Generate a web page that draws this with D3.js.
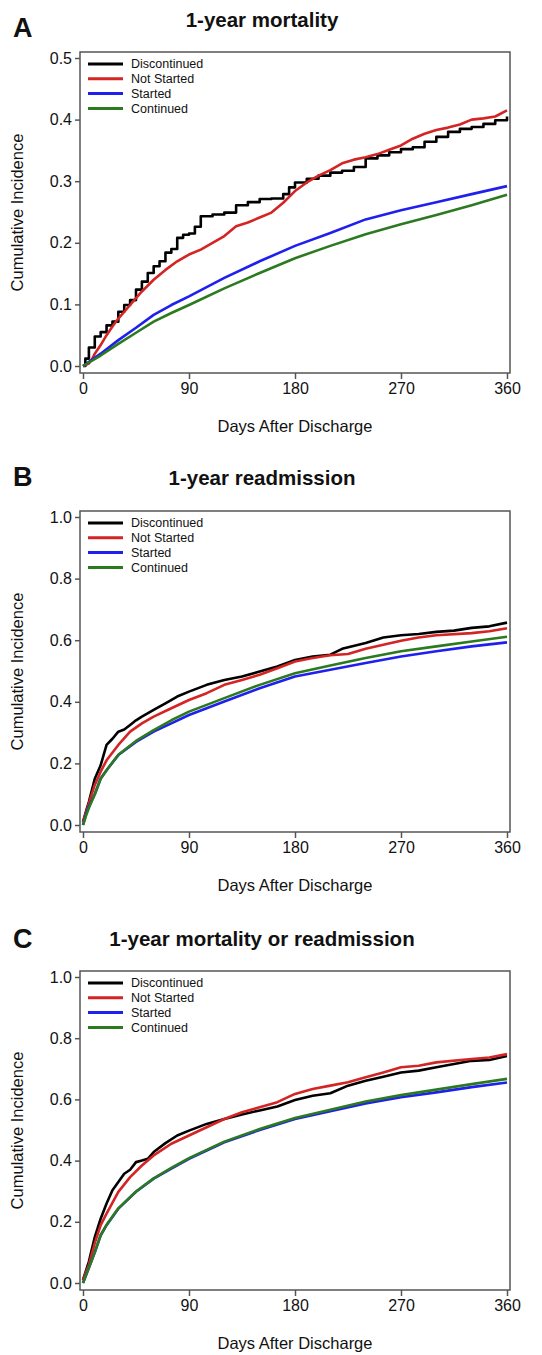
<!DOCTYPE html>
<html>
<head>
<meta charset="utf-8">
<script src="https://cdn.jsdelivr.net/npm/d3@7"></script>
<style>
  html, body { margin: 0; padding: 0; background: #fff; }
  svg { display: block; }
  text { font-family: "Liberation Sans", Arial, sans-serif; fill: #111; }
</style>
</head>
<body>
<svg id="chart" width="542" height="1355"></svg>
<script>
// ---------- data ----------
const seriesNames = ["Discontinued", "Not Started", "Started", "Continued"];
const seriesColors = ["#000000", "#d42424", "#1f1fee", "#2c7a1f"];
const xTicks = [0, 90, 180, 270, 360];
const yTicksA = [0.0, 0.1, 0.2, 0.3, 0.4, 0.5];
const yTicksBC = [0.0, 0.2, 0.4, 0.6, 0.8, 1.0];
const panelLetters = ["A", "B", "C"];
const panelTitles = ["1-year mortality", "1-year readmission", "1-year mortality or readmission"];

// Panel A: 1-year mortality  [day, cumulative incidence]
const mortDiscontinued = [[0,0],[2,0.012],[5,0.03],[10,0.048],[15,0.055],[20,0.066],[25,0.072],[30,0.088],[35,0.099],[40,0.107],[45,0.124],[50,0.137],[55,0.151],[60,0.162],[65,0.17],[70,0.184],[75,0.19],[80,0.208],[85,0.213],[90,0.215],[95,0.226],[100,0.243],[110,0.246],[120,0.249],[130,0.261],[140,0.266],[150,0.271],[160,0.272],[170,0.279],[175,0.29],[180,0.298],[190,0.304],[200,0.309],[210,0.314],[220,0.317],[230,0.323],[240,0.337],[250,0.342],[260,0.347],[270,0.352],[280,0.355],[290,0.364],[300,0.372],[310,0.38],[320,0.385],[330,0.388],[340,0.393],[350,0.399],[360,0.405]];
const mortNotStarted = [[0,0],[5,0.004],[8,0.012],[10,0.02],[15,0.034],[20,0.05],[25,0.064],[30,0.077],[40,0.099],[50,0.121],[60,0.14],[70,0.156],[80,0.17],[90,0.181],[100,0.189],[110,0.2],[120,0.211],[130,0.227],[140,0.233],[150,0.241],[160,0.249],[170,0.265],[180,0.284],[190,0.298],[200,0.309],[210,0.318],[220,0.329],[230,0.335],[240,0.339],[250,0.344],[260,0.351],[270,0.358],[280,0.369],[290,0.377],[300,0.383],[310,0.387],[320,0.392],[330,0.4],[340,0.402],[350,0.405],[360,0.415]];
const mortStarted = [[0,0],[15,0.02],[30,0.042],[45,0.062],[60,0.083],[75,0.099],[90,0.113],[120,0.143],[150,0.17],[180,0.195],[210,0.216],[240,0.238],[270,0.253],[300,0.266],[330,0.279],[360,0.292]];
const mortContinued = [[0,0],[15,0.017],[30,0.036],[45,0.054],[60,0.072],[75,0.086],[90,0.099],[120,0.126],[150,0.151],[180,0.175],[210,0.195],[240,0.214],[270,0.23],[300,0.245],[330,0.261],[360,0.278]];

// Panel B: 1-year readmission
const readmDiscontinued = [[0,0.01],[3,0.05],[5,0.075],[10,0.15],[15,0.194],[20,0.26],[25,0.28],[30,0.303],[35,0.31],[40,0.325],[45,0.34],[50,0.352],[60,0.374],[70,0.395],[80,0.417],[90,0.433],[105,0.455],[120,0.471],[135,0.482],[150,0.498],[165,0.515],[180,0.536],[195,0.547],[210,0.553],[220,0.572],[240,0.591],[255,0.609],[270,0.616],[285,0.62],[300,0.627],[315,0.631],[330,0.64],[345,0.645],[360,0.657]];
const readmNotStarted = [[0,0.01],[5,0.07],[10,0.13],[15,0.173],[20,0.21],[30,0.26],[40,0.303],[50,0.33],[60,0.352],[75,0.379],[90,0.406],[105,0.428],[120,0.455],[135,0.471],[150,0.488],[165,0.509],[180,0.531],[195,0.542],[210,0.551],[225,0.555],[240,0.572],[255,0.585],[270,0.598],[285,0.609],[300,0.616],[330,0.623],[345,0.629],[360,0.639]];
const readmStarted = [[0,0],[3,0.04],[5,0.06],[10,0.1],[15,0.151],[20,0.178],[30,0.227],[45,0.27],[60,0.303],[75,0.33],[90,0.357],[105,0.379],[120,0.401],[150,0.444],[180,0.482],[210,0.504],[240,0.526],[270,0.547],[300,0.564],[330,0.58],[360,0.593]];
const readmContinued = [[0,0],[3,0.035],[5,0.055],[10,0.1],[15,0.15],[20,0.178],[30,0.228],[45,0.273],[60,0.308],[75,0.34],[90,0.368],[105,0.39],[120,0.412],[150,0.455],[180,0.493],[210,0.518],[240,0.542],[270,0.564],[300,0.58],[330,0.596],[360,0.611]];

// Panel C: 1-year mortality or readmission
const comboDiscontinued = [[0,0.01],[5,0.07],[10,0.15],[15,0.21],[20,0.26],[25,0.303],[30,0.33],[35,0.357],[40,0.37],[45,0.395],[50,0.4],[55,0.406],[60,0.428],[70,0.457],[80,0.482],[90,0.498],[105,0.52],[120,0.536],[135,0.551],[150,0.564],[165,0.577],[180,0.598],[195,0.612],[210,0.62],[225,0.645],[240,0.661],[255,0.674],[270,0.688],[285,0.694],[300,0.705],[315,0.716],[330,0.726],[345,0.729],[360,0.742]];
const comboNotStarted = [[0,0.01],[5,0.06],[10,0.13],[15,0.189],[20,0.227],[30,0.298],[40,0.346],[50,0.384],[60,0.417],[75,0.455],[90,0.482],[105,0.509],[120,0.536],[135,0.558],[150,0.574],[165,0.591],[180,0.618],[195,0.634],[210,0.645],[225,0.656],[240,0.672],[255,0.688],[270,0.705],[285,0.71],[300,0.721],[330,0.732],[345,0.737],[360,0.748]];
const comboStarted = [[0,0],[5,0.05],[10,0.1],[15,0.156],[20,0.189],[30,0.243],[45,0.298],[60,0.341],[75,0.374],[90,0.406],[105,0.433],[120,0.46],[150,0.5],[180,0.536],[210,0.561],[240,0.587],[270,0.607],[300,0.623],[330,0.64],[360,0.655]];
const comboContinued = [[0,0],[5,0.05],[10,0.1],[15,0.156],[20,0.19],[30,0.244],[45,0.299],[60,0.342],[75,0.376],[90,0.408],[105,0.435],[120,0.462],[150,0.503],[180,0.539],[210,0.566],[240,0.593],[270,0.614],[300,0.632],[330,0.65],[360,0.667]];

// ---------- layout ----------
const svg = d3.select("#chart");
const boxLeft = 80, boxRight = 510;
const panels = [
  { top: 52,  bottom: 373,  yMax: 0.5, ticks: yTicksA,  fmt: d3.format(".1f"),
    series: [mortDiscontinued, mortNotStarted, mortStarted, mortContinued],
    titleY: 27, letterY: 37, stepBlack: true },
  { top: 511, bottom: 832,  yMax: 1.0, ticks: yTicksBC, fmt: d3.format(".1f"),
    series: [readmDiscontinued, readmNotStarted, readmStarted, readmContinued],
    titleY: 485, letterY: 486, stepBlack: false },
  { top: 971, bottom: 1290, yMax: 1.0, ticks: yTicksBC, fmt: d3.format(".1f"),
    series: [comboDiscontinued, comboNotStarted, comboStarted, comboContinued],
    titleY: 946, letterY: 948, stepBlack: false }
];

const x = d3.scaleLinear().domain([0, 360]).range([83, 507]);

panels.forEach((p, i) => {
  const g = svg.append("g");
  const y = d3.scaleLinear().domain([0, p.yMax]).range([p.bottom - 7, p.top + 6]);

  // panel letter and title
  g.append("text").attr("x", 13).attr("y", p.letterY)
    .attr("font-size", 27).attr("font-weight", "bold").text(panelLetters[i]);
  g.append("text").attr("x", 262).attr("y", p.titleY).attr("text-anchor", "middle")
    .attr("font-size", 20.5).attr("font-weight", "bold").text(panelTitles[i]);

  // clip
  const cid = "clip" + i;
  svg.append("clipPath").attr("id", cid).append("rect")
    .attr("x", boxLeft).attr("y", p.top).attr("width", boxRight - boxLeft).attr("height", p.bottom - p.top);

  // axes
  const xAxis = d3.axisBottom(x).tickValues(xTicks).tickSize(6).tickPadding(4).tickFormat(d3.format("d"));
  const gx = g.append("g").attr("transform", `translate(0,${p.bottom})`).call(xAxis);
  gx.select(".domain").remove();
  gx.selectAll("line").attr("stroke", "#555").attr("stroke-width", 1.5);
  gx.selectAll("text").attr("font-size", 16).attr("fill", "#111")
    .style("font-family", "'Liberation Sans', Arial, sans-serif");

  const yAxis = d3.axisLeft(y).tickValues(p.ticks).tickSize(5).tickPadding(3).tickFormat(p.fmt);
  const gy = g.append("g").attr("transform", `translate(${boxLeft},0)`).call(yAxis);
  gy.select(".domain").remove();
  gy.selectAll("line").attr("stroke", "#555").attr("stroke-width", 1.5);
  gy.selectAll("text").attr("font-size", 16).attr("fill", "#111")
    .style("font-family", "'Liberation Sans', Arial, sans-serif");

  // box
  g.append("rect").attr("x", boxLeft).attr("y", p.top)
    .attr("width", boxRight - boxLeft).attr("height", p.bottom - p.top)
    .attr("fill", "none").attr("stroke", "#555").attr("stroke-width", 1.5);

  // axis titles
  g.append("text").attr("x", 295).attr("y", p.bottom + 59).attr("text-anchor", "middle")
    .attr("font-size", 16.5).text("Days After Discharge");
  g.append("text").attr("transform", `translate(23,${(p.top + p.bottom) / 2}) rotate(-90)`)
    .attr("text-anchor", "middle").attr("font-size", 16.5).text("Cumulative Incidence");

  // curves
  const lines = g.append("g").attr("clip-path", `url(#${cid})`);
  p.series.forEach((s, k) => {
    const line = d3.line().x(d => x(d[0])).y(d => y(d[1]))
      .curve(k === 0 && p.stepBlack ? d3.curveStepAfter : d3.curveLinear);
    lines.append("path").datum(s).attr("d", line)
      .attr("fill", "none").attr("stroke", seriesColors[k])
      .attr("stroke-width", 2.6).attr("stroke-linejoin", "round");
  });

  // legend
  const lg = g.append("g");
  seriesNames.forEach((name, k) => {
    const ly = p.top + 12 + k * 14.8;
    lg.append("line").attr("x1", 88).attr("x2", 123).attr("y1", ly).attr("y2", ly)
      .attr("stroke", seriesColors[k]).attr("stroke-width", 3);
    lg.append("text").attr("x", 131).attr("y", ly + 4.3).attr("font-size", 12.5).text(name);
  });
});
</script>
</body>
</html>
